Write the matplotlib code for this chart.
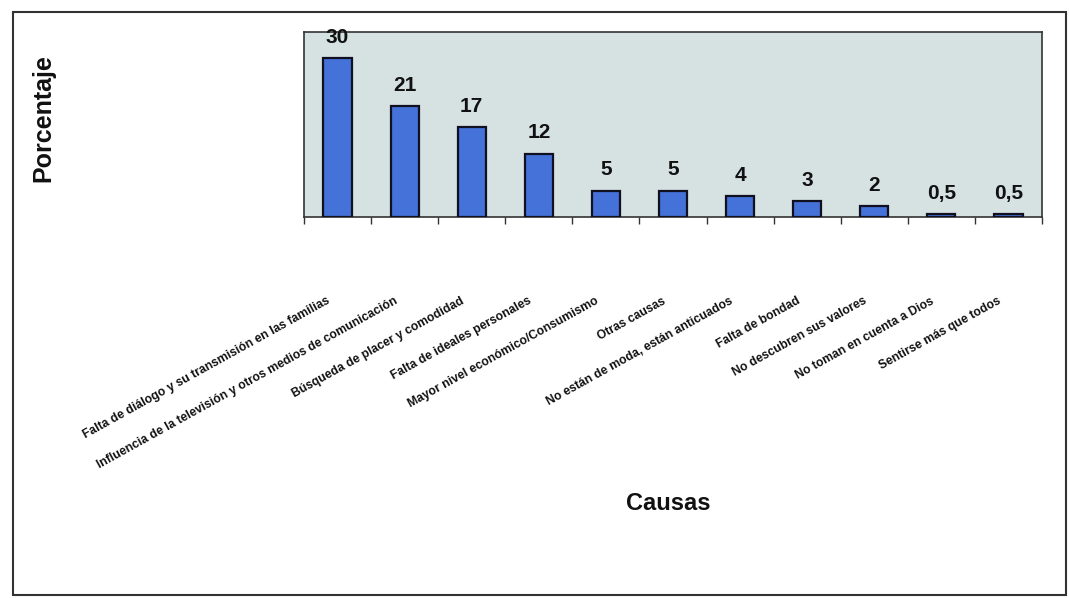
import matplotlib
matplotlib.use("Agg")
import matplotlib.pyplot as plt
import matplotlib.transforms as mtransforms
from matplotlib.patches import Rectangle
import numpy as np

categories = [
    "Falta de diálogo y su transmisión en las familias",
    "Influencia de la televisión y otros medios de comunicación",
    "Búsqueda de placer y comodidad",
    "Falta de ideales personales",
    "Mayor nivel económico/Consumismo",
    "Otras causas",
    "No están de moda, están anticuados",
    "Falta de bondad",
    "No descubren sus valores",
    "No toman en cuenta a Dios",
    "Sentirse más que todos",
]
values = [30, 21, 17, 12, 5, 5, 4, 3, 2, 0.5, 0.5]
value_labels = ["30", "21", "17", "12", "5", "5", "4", "3", "2", "0,5", "0,5"]

plt.rcParams['font.family'] = ['Liberation Sans', 'DejaVu Sans']

fig = plt.figure(figsize=(10.69, 5.98), dpi=100)
W, H = 1069, 598
ax = fig.add_axes([304 / W, 1 - 217 / H, (1042 - 304) / W, (217 - 32) / H])
ax.set_facecolor('#d6e2e2')

x = np.arange(len(categories))
ax.bar(x, values, width=0.42, color='#4472d9', edgecolor='#101020', linewidth=1.6, zorder=3)
for xi, v, lab in zip(x, values, value_labels):
    ax.annotate(lab, (xi, v), xytext=(0, 8), textcoords='offset points',
                ha='center', va='bottom', fontsize=15, fontweight='bold', color='#111111')

ax.set_xlim(-0.5, len(categories) - 0.5)
ax.set_ylim(0, 35)
ax.set_yticks([])
ax.set_xticks(x)
ax.set_xticks(np.arange(len(categories) + 1) - 0.5, minor=True)
ax.tick_params(axis='x', which='major', length=0, pad=0)
ax.tick_params(axis='x', which='minor', length=5, width=1, direction='out', color='#333333')
labels = ax.set_xticklabels(categories, rotation=29, ha='right', va='top',
                            rotation_mode='anchor', fontsize=8.7, fontweight='bold',
                            color='#111111')
offset = mtransforms.ScaledTranslation(-11 / 100, -78 / 100, fig.dpi_scale_trans)
for lab in labels:
    lab.set_transform(lab.get_transform() + offset)

for s in ax.spines.values():
    s.set_color('#333333')
    s.set_linewidth(1.2)

fig.text(43 / W, 1 - 118 / H, "Porcentaje", rotation=90, ha='center', va='center',
         fontsize=18, fontweight='bold', color='#111111')
fig.text(668 / W, 1 - 504 / H, "Causas", ha='center', va='center',
         fontsize=17, fontweight='bold', color='#111111')

frame = Rectangle((13 / W, 3 / H), (1066 - 13) / W, (583) / H, transform=fig.transFigure,
                  fill=False, edgecolor='#333333', linewidth=1.5)
fig.patches.append(frame)

fig.savefig("out.png", dpi=100)
